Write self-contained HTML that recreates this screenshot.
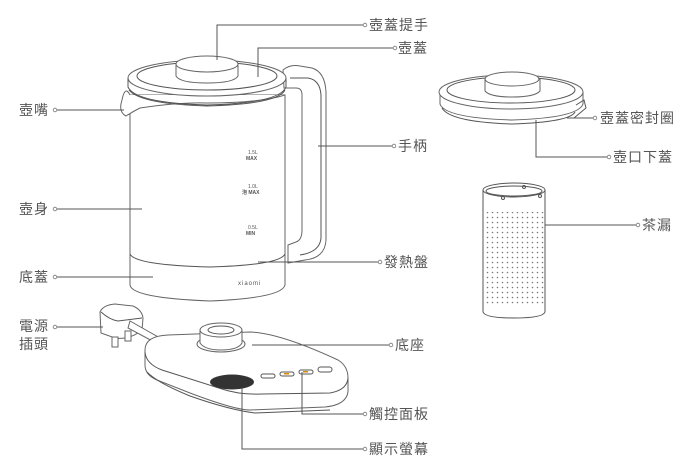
<!DOCTYPE html>
<html><head><meta charset="utf-8"><style>
html,body{margin:0;padding:0;background:#fff;}
svg{display:block;}
text{font-family:"Liberation Sans","Noto Sans CJK TC",sans-serif;font-size:14px;letter-spacing:1px;fill:#555;dominant-baseline:central;}
.l{stroke:#555;stroke-width:1;fill:none;}
.d{stroke:#666;stroke-width:1;fill:#fff;}
</style></head><body>
<svg width="698" height="466" viewBox="0 0 698 466" xmlns="http://www.w3.org/2000/svg">
<defs>
<pattern id="dots" width="5" height="5" patternUnits="userSpaceOnUse"><circle cx="2.5" cy="2.5" r="0.8" fill="#777"/></pattern>
</defs>
<!-- handle -->
<path class="d" d="M283,70 Q290,64 300,66 L312,68 Q325,72 326,92 L326,240 Q325,258 305,260 L288,263 L288,245 L296,242 Q302,240 302,230 L302,95 Q302,88 296,88 L284,88 Z"/>
<path class="l" d="M290,78 L308,78 Q320,80 321,95 L321,238 Q320,252 300,255"/>
<!-- body -->
<path class="d" d="M130,95 L130,285 Q132,298 210,301 Q282,298 285,285 L285,95 Z"/>
<path class="l" d="M130,254 Q135,265 210,267 Q280,265 285,254"/>
<!-- spout -->
<path class="d" d="M130,95 Q125,85 122,100 Q118,112 126,116 Q132,112 140,108 Q180,102 207,103 Q260,103 285,95"/>
<!-- lid -->
<ellipse class="d" cx="207" cy="78" rx="79" ry="18"/>
<path class="l" d="M128,78 L128,87 Q135,103 207,105 Q280,103 286,87 L286,78"/>
<path class="l" d="M129,90 Q140,104 207,106 Q278,104 285,90"/>
<ellipse class="l" cx="207" cy="76" rx="70" ry="14"/>
<!-- knob -->
<path class="d" d="M176,64 L176,76 Q180,83 207,83 Q234,83 238,76 L238,64 Z"/>
<ellipse class="d" cx="207" cy="64" rx="31" ry="8"/>
<!-- markings -->
<text x="248" y="153" style="font-size:5px;letter-spacing:0">1.5L</text><text x="246" y="159" style="font-size:5px;font-weight:bold;letter-spacing:0">MAX</text>
<text x="248" y="187" style="font-size:5px;letter-spacing:0">1.0L</text><text x="242" y="193" style="font-size:5px;font-weight:bold;letter-spacing:0">泡 MAX</text>
<text x="248" y="228" style="font-size:5px;letter-spacing:0">0.5L</text><text x="246" y="234" style="font-size:5px;font-weight:bold;letter-spacing:0">MIN</text>
<text x="238" y="284" style="font-size:6px;letter-spacing:1px">xiaomi</text>
<!-- plug -->
<path class="d" d="M100,312 Q103,305 115,304 L133,306 Q142,310 143,318 L142,330 Q130,340 115,338 L101,333 Z"/>
<path class="l" d="M101,312 Q110,320 118,321 L142,318"/>
<rect class="d" x="112" y="337" width="6" height="10"/><rect class="d" x="125" y="331" width="6" height="10"/>
<path class="d" d="M130,321 L160,338 L156,343 L128,328 Z"/>
<!-- base -->
<path class="d" d="M145,350 Q145,336 168,335 L250,332 Q280,333 338,360 Q348,366 348,378 L348,392 Q346,405 325,407 L250,410 Q235,410 190,393 L157,380 Q145,375 145,365 Z"/>
<path class="l" d="M145,352 Q146,364 162,370 L222,389 Q240,395 262,394 L330,393 Q347,390 348,378"/>
<path class="l" d="M147,372 Q156,382 190,396 Q230,410 255,413 L330,410"/>
<ellipse class="d" cx="221" cy="344" rx="24" ry="8"/>
<path class="d" d="M200,330 L200,343 Q205,350 221,350 Q238,350 242,343 L242,330 Z"/>
<ellipse class="d" cx="221" cy="330" rx="21" ry="7"/>
<ellipse class="l" cx="221" cy="330" rx="13" ry="4"/>
<ellipse cx="232" cy="382" rx="22" ry="7.5" fill="#333"/>
<rect x="261" y="374" width="14" height="4" rx="2" class="l"/>
<rect x="280" y="372" width="14" height="4" rx="2" class="l"/><rect x="284" y="373" width="5" height="1.5" fill="#d80"/>
<rect x="299" y="370" width="14" height="4" rx="2" class="l"/><rect x="303" y="371" width="5" height="1.5" fill="#d80"/>
<rect x="318" y="367" width="14" height="5" rx="2.5" class="l"/>
<!-- right lid -->
<path class="d" d="M440,92 L440,104 Q445,118 512,120 Q578,118 583,104 L583,92 Z"/>
<path class="l" d="M442,108 Q450,122 512,124 Q570,122 575,112"/>
<ellipse class="d" cx="511" cy="92" rx="72" ry="17"/>
<ellipse class="l" cx="511" cy="90" rx="64" ry="13"/>
<path class="d" d="M485,79 L485,91 Q490,97 512,97 Q535,97 540,91 L540,79 Z"/>
<ellipse class="d" cx="512" cy="79" rx="27" ry="7"/>
<path class="l" d="M576,105 L584,100 L586,108 L574,118"/>
<!-- strainer -->
<rect x="484" y="212" width="62" height="92" fill="url(#dots)"/>
<path class="l" d="M483,190 L483,312 Q485,318 514,318 Q543,318 545,312 L545,190"/>
<ellipse class="l" cx="514" cy="190" rx="31" ry="7"/>
<ellipse class="l" cx="514" cy="191" rx="28" ry="5"/>
<circle cx="524" cy="187" r="1.5" class="l"/><circle cx="503" cy="198" r="1.5" class="l"/><circle cx="540" cy="196" r="1.5" class="l"/>
<!-- leaders -->
<g class="l">
<path d="M217,60 L217,25 L363,25"/><path d="M258,77 L258,48 L393,48"/>
<path d="M57,110 L124,110"/><path d="M318,146 L392,146"/>
<path d="M57,209 L142,209"/><path d="M57,277 L153,277"/>
<path d="M258,262 L378,262"/><path d="M57,327 L103,327"/>
<path d="M252,345 L389,345"/><path d="M302,372 L302,414 L363,414"/>
<path d="M242,388 L242,449 L363,449"/>
<path d="M567,118 L593,118"/><path d="M536,120 L536,157 L607,157"/>
<path d="M545,225 L636,225"/>
</g>
<g fill="#fff" stroke="#777" stroke-width="0.8">
<circle cx="365" cy="25" r="1.8"/><circle cx="395" cy="48" r="1.8"/><circle cx="55" cy="110" r="1.8"/>
<circle cx="394" cy="146" r="1.8"/><circle cx="55" cy="209" r="1.8"/><circle cx="55" cy="277" r="1.8"/>
<circle cx="380" cy="262" r="1.8"/><circle cx="55" cy="327" r="1.8"/><circle cx="391" cy="345" r="1.8"/>
<circle cx="365" cy="414" r="1.8"/><circle cx="365" cy="449" r="1.8"/><circle cx="595" cy="118" r="1.8"/>
<circle cx="609" cy="157" r="1.8"/><circle cx="638" cy="225" r="1.8"/>
</g>
<text x="369" y="25">壺蓋提手</text><text x="398" y="48">壺蓋</text>
<text x="19" y="110">壺嘴</text><text x="398" y="146">手柄</text>
<text x="19" y="209">壺身</text><text x="19" y="277">底蓋</text>
<text x="384" y="262">發熱盤</text><text x="19" y="326">電源</text><text x="19" y="344">插頭</text>
<text x="395" y="345">底座</text><text x="369" y="414">觸控面板</text><text x="369" y="449">顯示螢幕</text>
<text x="600" y="118">壺蓋密封圈</text><text x="613" y="157">壺口下蓋</text><text x="642" y="225">茶漏</text>
</svg>
</body></html>
